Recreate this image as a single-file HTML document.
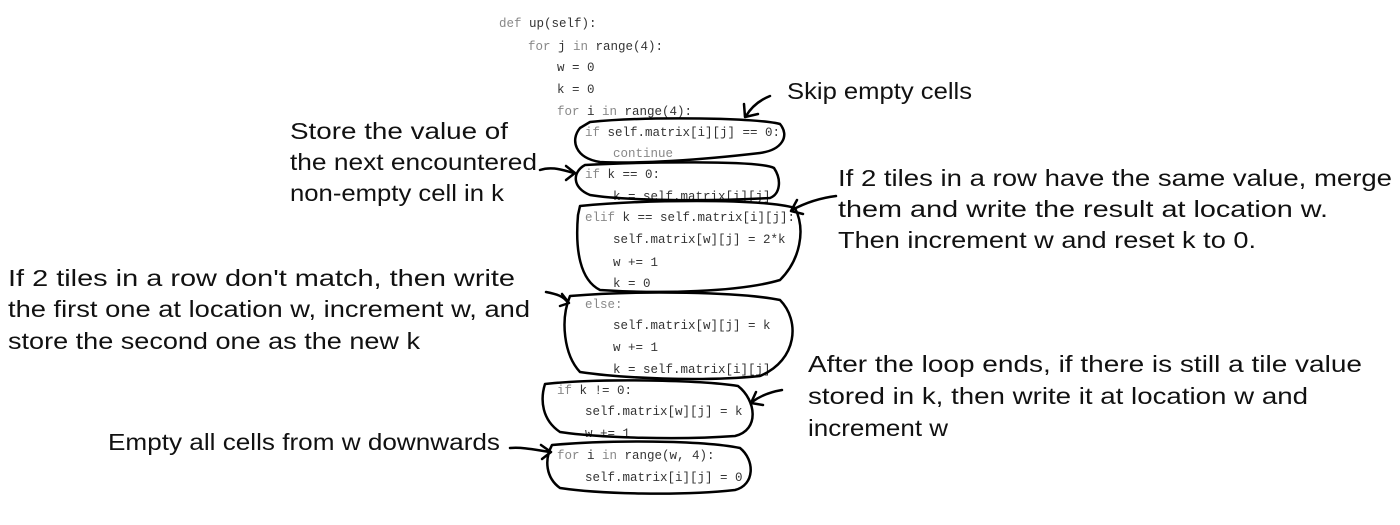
<!DOCTYPE html>
<html><head><meta charset="utf-8"><style>
html,body{margin:0;padding:0;background:#fff;}
svg{display:block}
.c{font-family:"Liberation Mono",monospace;font-size:12.5px;fill:#333;}
.k{fill:#888;}
.h{font-family:"Liberation Sans",sans-serif;font-size:23px;fill:#111;}
.o{fill:none;stroke:#000;stroke-width:2.5;stroke-linecap:round;stroke-linejoin:round;}
</style></head><body>
<svg width="1400" height="525" viewBox="0 0 1400 525">
<g class="c">
<text x="499" y="27"><tspan class="k">def</tspan> up(self):</text>
<text x="528" y="50"><tspan class="k">for</tspan> j <tspan class="k">in</tspan> range(4):</text>
<text x="557" y="71">w = 0</text>
<text x="557" y="93">k = 0</text>
<text x="557" y="115"><tspan class="k">for</tspan> i <tspan class="k">in</tspan> range(4):</text>
<text x="585" y="136"><tspan class="k">if</tspan> self.matrix[i][j] == 0:</text>
<text x="613" y="157" class="k">continue</text>
<text x="585" y="178"><tspan class="k">if</tspan> k == 0:</text>
<text x="613" y="200">k = self.matrix[i][j]</text>
<text x="585" y="221"><tspan class="k">elif</tspan> k == self.matrix[i][j]:</text>
<text x="613" y="243">self.matrix[w][j] = 2*k</text>
<text x="613" y="266">w += 1</text>
<text x="613" y="287">k = 0</text>
<text x="585" y="308" class="k">else:</text>
<text x="613" y="329">self.matrix[w][j] = k</text>
<text x="613" y="351">w += 1</text>
<text x="613" y="373">k = self.matrix[i][j]</text>
<text x="557" y="394"><tspan class="k">if</tspan> k != 0:</text>
<text x="585" y="415">self.matrix[w][j] = k</text>
<text x="585" y="437">w += 1</text>
<text x="557" y="459"><tspan class="k">for</tspan> i <tspan class="k">in</tspan> range(w, 4):</text>
<text x="585" y="481">self.matrix[i][j] = 0</text>
</g>
<g class="o">
<path d="M590,122 C650,116 760,118 780,124 C790,136 782,150 760,153 C700,160 640,164 600,162 C575,158 570,140 580,128 Z"/>
<path d="M585,165 C640,162 760,160 774,168 C782,180 780,194 770,198 C700,202 620,200 590,195 C572,188 572,172 585,165 Z"/>
<path d="M580,206 C640,200 760,198 795,208 C806,230 800,260 780,280 C740,292 660,294 600,290 C580,280 575,250 578,215 Z"/>
<path d="M570,296 C640,290 740,292 780,300 C800,320 798,360 760,376 C700,382 620,378 580,372 C564,355 560,320 570,296 Z"/>
<path d="M545,384 C600,378 700,380 738,386 C756,400 760,430 735,436 C680,440 600,438 560,432 C542,420 540,400 545,384 Z"/>
<path d="M552,445 C610,440 700,440 740,448 C755,460 755,485 735,490 C680,496 600,494 560,488 C546,478 544,460 552,445 Z"/>
</g>
<g class="o">
<path d="M770,96 C760,100 752,106 746,116 M744,104 L745,117 L758,114"/>
<path d="M540,170 C552,166 562,170 574,173 M566,166 L575,173 L566,180"/>
<path d="M836,196 C820,198 805,203 792,210 M797,200 L791,211 L803,214"/>
<path d="M546,292 C556,294 564,296 568,303 M562,294 L569,303 L560,306"/>
<path d="M782,390 C770,392 760,396 752,402 M756,392 L751,403 L763,405"/>
<path d="M510,448 C524,447 536,450 550,452 M541,445 L551,452 L542,459"/>
</g>
<g class="h">
<text x="787" y="99" textLength="185" lengthAdjust="spacingAndGlyphs">Skip empty cells</text>
<text x="290" y="139" textLength="218" lengthAdjust="spacingAndGlyphs">Store the value of</text>
<text x="290" y="170" textLength="247" lengthAdjust="spacingAndGlyphs">the next encountered</text>
<text x="290" y="201" textLength="214" lengthAdjust="spacingAndGlyphs">non-empty cell in k</text>
<text x="838" y="186" textLength="554" lengthAdjust="spacingAndGlyphs">If 2 tiles in a row have the same value, merge</text>
<text x="838" y="217" textLength="490" lengthAdjust="spacingAndGlyphs">them and write the result at location w.</text>
<text x="838" y="248" textLength="418" lengthAdjust="spacingAndGlyphs">Then increment w and reset k to 0.</text>
<text x="8" y="286" textLength="507" lengthAdjust="spacingAndGlyphs">If 2 tiles in a row don't match, then write</text>
<text x="8" y="317" textLength="522" lengthAdjust="spacingAndGlyphs">the first one at location w, increment w, and</text>
<text x="8" y="349" textLength="412" lengthAdjust="spacingAndGlyphs">store the second one as the new k</text>
<text x="808" y="372" textLength="554" lengthAdjust="spacingAndGlyphs">After the loop ends, if there is still a tile value</text>
<text x="808" y="404" textLength="500" lengthAdjust="spacingAndGlyphs">stored in k, then write it at location w and</text>
<text x="808" y="436" textLength="140" lengthAdjust="spacingAndGlyphs">increment w</text>
<text x="108" y="450" textLength="392" lengthAdjust="spacingAndGlyphs">Empty all cells from w downwards</text>
</g>
</svg>
</body></html>
